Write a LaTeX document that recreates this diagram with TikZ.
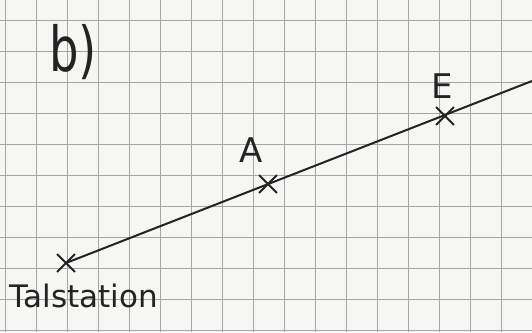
\documentclass[tikz,border=0pt]{standalone}
\usepackage{fontspec}
\setmainfont{DejaVu Sans}
\usetikzlibrary{shapes.misc}
\definecolor{paper}{RGB}{246,246,244}
\definecolor{gridc}{RGB}{165,165,165}
\definecolor{ink}{RGB}{35,35,35}
\tikzset{
  gridline/.style={draw=gridc, line width=0.8pt},
  markx/.style={cross out, draw=ink, line width=1.8pt, minimum size=16pt, inner sep=0pt},
  lbl/.style={text=ink, inner sep=0pt},
  track/.style={draw=ink, line width=2pt}
}
\begin{document}
\begin{tikzpicture}[x=1pt,y=-1pt]
  \fill[paper] (0,0) rectangle (532,332);
  \useasboundingbox (0,0) rectangle (532,332);
  \foreach \i in {0,...,17} {
    \draw[gridline] ({5+31*\i},0) -- ({5+31*\i},332);
  }
  \foreach \j in {0,...,10} {
    \draw[gridline] (0,{20+31*\j}) -- (532,{20+31*\j});
  }
  \node[markx] (ts) at (66,263) {};
  \node[markx] (a) at (268,184) {};
  \node[markx] (e) at (445,116) {};
  \coordinate (end) at (532,81);
  \draw[track] (ts.center) -- (end);
  \node[lbl, font=\fontsize{62}{62}\selectfont, xscale=0.75] (b) at (73,52) {b)};
  \node[lbl, font=\fontsize{34}{34}\selectfont] (la) at (251,150) {A};
  \node[lbl, font=\fontsize{34}{34}\selectfont] (le) at (442,86) {E};
  \node[lbl, font=\fontsize{31}{31}\selectfont] (lt) at (84,296) {Talstation};
\end{tikzpicture}
\end{document}
